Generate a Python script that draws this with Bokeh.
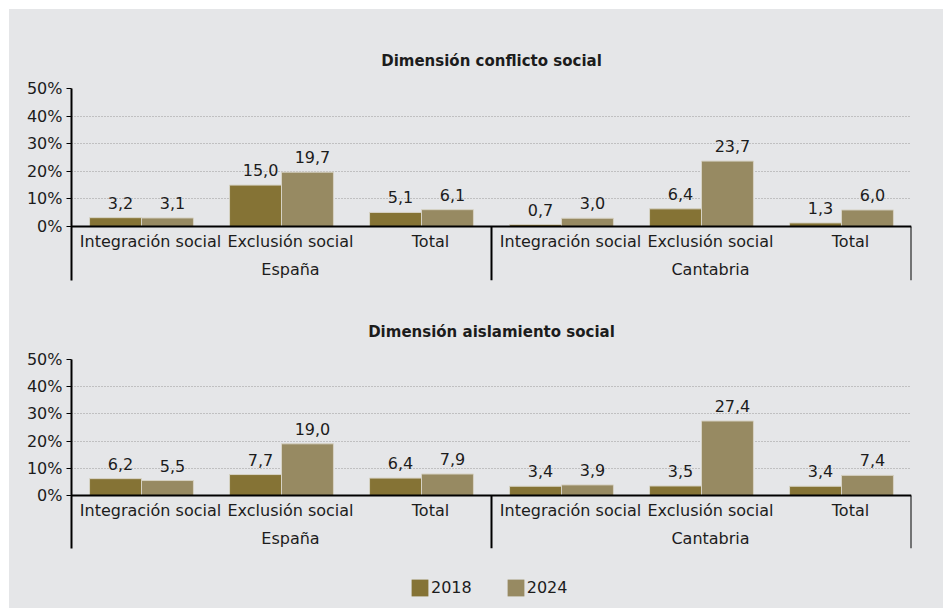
from bokeh.plotting import figure
from bokeh.models import (FactorRange, ColumnDataSource, Range1d, FixedTicker,
                          PrintfTickFormatter, Legend, LegendItem, Span)
from bokeh.transform import dodge
from bokeh.layouts import column
from bokeh.embed import file_html
from bokeh.resources import INLINE
from bokeh.core.properties import value

# ---------------- data ----------------
regions = ["España", "Cantabria"]
categories = ["Integración social", "Exclusión social", "Total"]
years = ["2018", "2024"]
conflicto_2018 = [3.2, 15.0, 5.1, 0.7, 6.4, 1.3]
conflicto_2024 = [3.1, 19.7, 6.1, 3.0, 23.7, 6.0]
aislamiento_2018 = [6.2, 7.7, 6.4, 3.4, 3.5, 3.4]
aislamiento_2024 = [5.5, 19.0, 7.9, 3.9, 27.4, 7.4]
titles = ["Dimensión conflicto social", "Dimensión aislamiento social"]
y_ticks = [0, 10, 20, 30, 40, 50]

# ---------------- style ----------------
BG = "#e5e6e8"
C18 = "#857335"
C24 = "#978a62"
EDGE = "#d6d2c4"
FONT = "DejaVu Sans"
TXT = "#1c1c1c"
BAR_W = 0.371
FIG_W = 934
BL, BR = 62, 32


def fmt(v):
    return f"{v:.1f}".replace(".", ",")


def panel(title, v18, v24, height, border_top, border_bottom, frame_h, px50):
    factors = [(r, c) for r in regions for c in categories]
    xr = FactorRange(factors=factors, factor_padding=0, group_padding=0,
                     range_padding=0)
    ymax = y_ticks[-1]
    ymin = -(frame_h - px50) / (px50 / ymax)
    p = figure(width=FIG_W, height=height, x_range=xr, y_range=Range1d(ymin, ymax),
               output_backend="svg", toolbar_location=None, x_axis_location=None,
               min_border_left=BL, min_border_right=BR,
               min_border_top=border_top, min_border_bottom=border_bottom,
               background_fill_color=BG, border_fill_color=BG,
               outline_line_color=None)
    p.title.text = title
    p.title.align = "center"
    p.title.offset = 5
    p.title.text_font = FONT
    p.title.text_font_size = "15px"
    p.title.text_font_style = "bold"
    p.title.text_color = TXT
    p.title.standoff = 37

    ax = p.yaxis[0]
    ax.ticker = FixedTicker(ticks=y_ticks)
    ax.formatter = PrintfTickFormatter(format="%d%%")
    ax.major_label_text_font = FONT
    ax.major_label_text_font_size = "16px"
    ax.major_label_text_color = TXT
    ax.axis_line_width = 2
    ax.axis_line_color = "black"
    ax.major_tick_out = 5
    ax.major_tick_in = 0
    ax.minor_tick_out = 0
    ax.minor_tick_in = 0
    ax.major_tick_line_color = "black"
    ax.major_label_standoff = 4

    p.xgrid.visible = False
    p.ygrid.grid_line_color = "#9a9a9a"
    p.ygrid.grid_line_dash = "1 2"
    p.ygrid.grid_line_width = 1

    src = ColumnDataSource(dict(
        x=factors,
        cat=[c for r in regions for c in categories],
        v18=v18, v24=v24,
        l18=[fmt(v) for v in v18], l24=[fmt(v) for v in v24],
    ))
    p.vbar(x=dodge("x", -BAR_W / 2, range=xr), top="v18", width=BAR_W,
           source=src, fill_color=C18, line_color=EDGE, line_width=1)
    p.vbar(x=dodge("x", BAR_W / 2, range=xr), top="v24", width=BAR_W,
           source=src, fill_color=C24, line_color=EDGE, line_width=1)

    p.add_layout(Span(location=0, dimension="width", line_color="black",
                      line_width=2))

    for off, col, yc in ((-BAR_W / 2, "l18", "v18"), (BAR_W / 2, "l24", "v24")):
        p.text(x=dodge("x", off, range=xr), y=yc, text=col, source=src,
               text_font=value(FONT), text_font_size="16px", text_color=TXT,
               text_align="center", text_baseline="middle",
               x_offset=5, y_offset=-15)

    p.text(x="x", y=0, text="cat", source=src, text_font=value(FONT),
           text_font_size="16px", text_color=TXT, text_align="center",
           text_baseline="middle", x_offset=9, y_offset=15)

    gsrc = ColumnDataSource(dict(x=regions, t=regions))
    p.text(x="x", y=0, text="t", source=gsrc, text_font=value(FONT),
           text_font_size="16px", text_color=TXT, text_align="center",
           text_baseline="middle", x_offset=9, y_offset=43)

    ssrc = ColumnDataSource(dict(x=[(r, categories[-1]) for r in regions]))
    p.segment(x0=dodge("x", 0.5, range=xr), y0=0,
              x1=dodge("x", 0.5, range=xr), y1=ymin,
              source=ssrc, line_color="black", line_width=2)
    return p


p1 = panel(titles[0], conflicto_2018, conflicto_2024, 291, 79, 20, 192, 138)
p2 = panel(titles[1], aislamiento_2018, aislamiento_2024, 260, 59, 12, 189, 136)

lg = figure(width=FIG_W, height=48, x_range=(0, 1), y_range=(0, 1),
            toolbar_location=None, output_backend="svg",
            min_border_left=BL, min_border_right=BR, min_border_top=0,
            min_border_bottom=0,
            background_fill_color=BG, border_fill_color=BG,
            outline_line_color=None, x_axis_location=None, y_axis_location=None)
lg.xgrid.visible = False
lg.ygrid.visible = False
lsrc = ColumnDataSource(dict(x=[0.5], b=[0], t=[0]))
r18 = lg.vbar(x="x", bottom="b", top="t", width=0.1, source=lsrc,
              fill_color=C18, line_color=None)
r24 = lg.vbar(x="x", bottom="b", top="t", width=0.1, source=lsrc,
              fill_color=C24, line_color=None)
legend = Legend(items=[LegendItem(label=years[0], renderers=[r18]),
                       LegendItem(label=years[1], renderers=[r24])],
                orientation="horizontal", location=(338, 10), padding=0,
                margin=0, spacing=33, label_standoff=1, glyph_width=21,
                glyph_height=21, background_fill_alpha=0,
                border_line_color=None, label_text_font=FONT,
                label_text_font_size="16px", label_text_color=TXT)
lg.add_layout(legend)

layout = column(p1, p2, lg, spacing=0, margin=(9, 0, 0, 9),
                styles={"background-color": BG})
open("out.html", "w").write(file_html(layout, INLINE))
